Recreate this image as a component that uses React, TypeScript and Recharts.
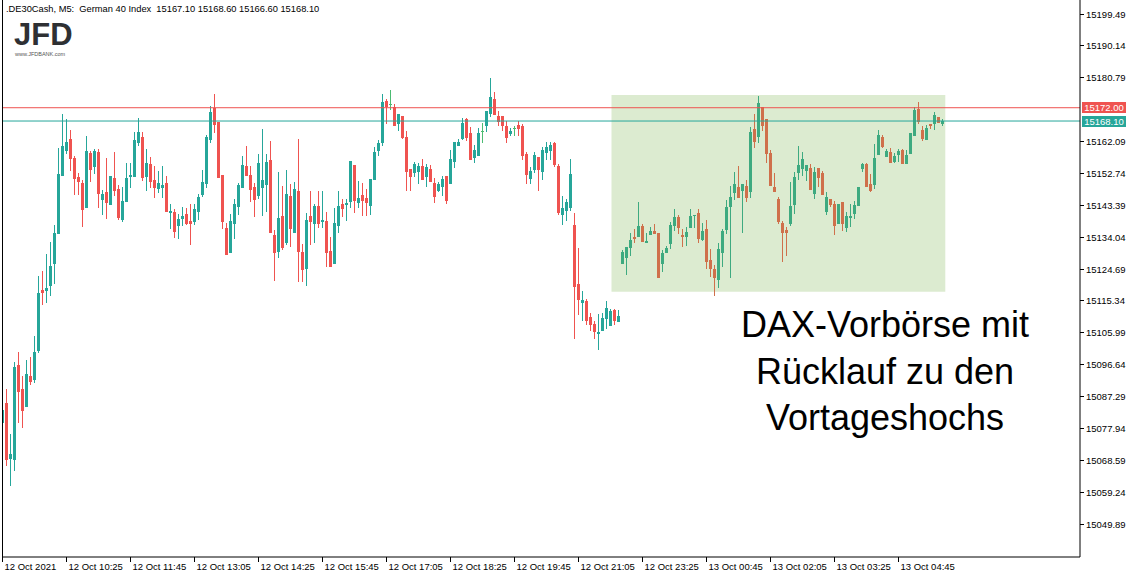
import React from 'react';
import { ComposedChart, Bar, XAxis, YAxis, ReferenceLine, ReferenceArea } from 'recharts';

const opens = [
  15079.6, 15085.3, 15068.9, 15068.7, 15096.5, 15089.5, 15084.2, 15093.3, 15092.1, 15100.6,
  15118.5, 15118.2, 15119.7, 15126.2, 15135.0, 15152.0, 15159.3, 15162.8, 15157.3, 15151.7,
  15149.9, 15142.6, 15158.7, 15154.6, 15159.0, 15144.9, 15147.3, 15143.5, 15151.4, 15148.2,
  15139.1, 15144.3, 15151.7, 15151.7, 15161.7, 15163.4, 15151.7, 15155.5, 15150.8, 15148.2,
  15148.5, 15149.9, 15141.1, 15141.4, 15137.3, 15139.4, 15140.8, 15138.8, 15138.5, 15141.4,
  15146.4, 15149.6, 15162.5, 15171.9, 15167.8, 15152.3, 15136.7, 15129.4, 15137.9, 15142.9,
  15148.5, 15154.9, 15152.3, 15148.7, 15146.1, 15148.5, 15149.3, 15156.7, 15134.7, 15129.7,
  15140.2, 15132.3, 15146.1, 15135.3, 15147.6, 15129.7, 15124.7, 15140.2, 15137.9, 15143.2,
  15138.5, 15138.8, 15130.0, 15126.2, 15137.3, 15143.8, 15143.5, 15144.3, 15155.2, 15144.1,
  15146.4, 15145.5, 15143.2, 15150.8, 15159.3, 15161.7, 15174.0, 15173.1, 15172.2, 15167.2,
  15169.6, 15163.4, 15154.0, 15152.9, 15153.1, 15154.9, 15151.7, 15154.0, 15149.9, 15147.6,
  15148.7, 15152.0, 15149.6, 15156.1, 15160.8, 15162.8, 15168.7, 15164.6, 15157.3, 15157.8,
  15165.2, 15166.6, 15170.2, 15174.6, 15169.6, 15169.6, 15166.6, 15164.3, 15166.1, 15166.9,
  15166.6, 15158.4, 15151.1, 15153.7, 15157.5, 15153.1, 15158.7, 15159.3, 15161.7, 15154.9,
  15140.5, 15141.7, 15142.6, 15137.6, 15120.3, 15114.7, 15115.3, 15110.6, 15108.6, 15105.6,
  15106.5, 15110.0, 15108.0, 15112.7, 15109.1, 15126.2, 15127.9, 15130.9, 15134.1, 15134.1,
  15137.3, 15132.3, 15134.7, 15135.8, 15135.3, 15126.2, 15129.4, 15132.0, 15137.3, 15139.9,
  15134.7, 15134.1, 15136.7, 15140.2, 15141.1, 15133.2, 15136.4, 15127.3, 15124.7, 15121.5,
  15129.4, 15136.1, 15142.9, 15147.0, 15148.7, 15147.6, 15149.0, 15147.3, 15165.8, 15163.4,
  15172.2, 15168.7, 15158.7, 15148.7, 15145.2, 15138.2, 15136.1, 15137.9, 15143.5, 15152.9,
  15154.0, 15153.4, 15154.3, 15146.7, 15154.3, 15152.9, 15141.4, 15145.2, 15143.8, 15137.9,
  15144.3, 15136.7, 15139.7, 15140.8, 15143.2, 15154.0, 15155.5, 15149.6, 15149.3, 15158.1,
  15163.4, 15157.5, 15159.0, 15156.1, 15158.1, 15159.6, 15155.5, 15158.4, 15163.7, 15171.6,
  15165.5, 15162.5, 15167.2, 15167.2, 15169.3, 15167.1,
];

const highs = [
  15083.5, 15089.5, 15076.3, 15097.5, 15100.3, 15093.4, 15098.0, 15098.9, 15105.0, 15122.6,
  15124.1, 15129.1, 15132.6, 15137.6, 15160.2, 15170.2, 15168.7, 15165.5, 15157.8, 15152.9,
  15150.8, 15163.7, 15159.3, 15159.9, 15159.9, 15147.9, 15157.3, 15152.0, 15159.0, 15149.3,
  15148.7, 15155.8, 15155.8, 15164.9, 15169.0, 15164.9, 15159.9, 15157.5, 15154.9, 15153.4,
  15154.9, 15152.0, 15143.8, 15142.3, 15140.8, 15142.9, 15142.6, 15143.8, 15143.8, 15146.7,
  15153.7, 15164.0, 15172.5, 15176.0, 15167.8, 15152.3, 15138.2, 15140.8, 15145.2, 15149.9,
  15157.8, 15160.8, 15154.9, 15149.9, 15158.4, 15165.8, 15158.4, 15162.2, 15136.1, 15153.1,
  15149.0, 15153.7, 15149.6, 15150.2, 15162.8, 15132.0, 15141.1, 15147.6, 15143.8, 15147.6,
  15147.6, 15141.4, 15134.1, 15142.6, 15147.6, 15145.2, 15145.2, 15156.4, 15155.2, 15150.5,
  15149.9, 15148.2, 15151.1, 15160.5, 15162.5, 15176.0, 15174.6, 15177.2, 15173.1, 15170.2,
  15169.6, 15165.2, 15154.0, 15156.1, 15155.8, 15157.0, 15155.5, 15155.2, 15151.4, 15150.2,
  15152.0, 15152.0, 15159.6, 15161.9, 15162.8, 15169.0, 15169.0, 15166.3, 15161.1, 15166.1,
  15167.5, 15171.0, 15180.7, 15176.6, 15171.0, 15169.6, 15168.1, 15166.1, 15166.6, 15168.1,
  15167.2, 15159.0, 15154.6, 15159.0, 15157.5, 15160.5, 15161.9, 15161.9, 15161.9, 15155.5,
  15146.1, 15145.2, 15157.0, 15141.1, 15130.9, 15118.2, 15115.9, 15111.8, 15109.4, 15111.5,
  15111.8, 15115.3, 15113.0, 15113.0, 15112.7, 15130.3, 15131.1, 15135.3, 15136.4, 15144.3,
  15137.9, 15135.3, 15137.0, 15137.9, 15135.3, 15130.3, 15131.4, 15138.5, 15142.3, 15140.5,
  15136.4, 15137.0, 15142.3, 15140.5, 15142.3, 15138.2, 15139.1, 15130.6, 15125.9, 15132.3,
  15136.4, 15144.9, 15149.0, 15153.1, 15154.9, 15149.6, 15150.8, 15166.3, 15170.2, 15175.4,
  15172.2, 15168.7, 15159.6, 15152.9, 15145.8, 15138.8, 15137.0, 15150.2, 15153.1, 15160.8,
  15159.0, 15155.2, 15155.5, 15154.6, 15154.3, 15153.4, 15147.3, 15145.2, 15144.6, 15143.8,
  15144.3, 15141.4, 15143.8, 15144.6, 15148.7, 15155.8, 15155.8, 15152.6, 15161.4, 15165.5,
  15164.0, 15159.9, 15160.2, 15158.7, 15159.9, 15159.9, 15159.6, 15164.6, 15172.2, 15173.7,
  15166.6, 15166.9, 15167.2, 15170.7, 15169.3, 15168.6,
];

const lows = [
  15079.4, 15067.0, 15061.1, 15065.5, 15079.6, 15078.1, 15084.2, 15090.8, 15091.2, 15100.1,
  15114.1, 15114.7, 15116.8, 15120.3, 15135.0, 15152.0, 15158.4, 15153.4, 15146.4, 15146.4,
  15137.0, 15142.6, 15150.2, 15152.6, 15142.6, 15140.5, 15139.4, 15143.5, 15146.1, 15139.1,
  15138.5, 15144.3, 15148.5, 15151.7, 15160.8, 15150.5, 15147.6, 15148.5, 15145.5, 15147.0,
  15145.5, 15141.4, 15136.4, 15133.8, 15133.5, 15137.3, 15137.6, 15131.7, 15137.6, 15139.1,
  15145.8, 15148.5, 15161.7, 15164.6, 15151.4, 15136.4, 15128.8, 15129.4, 15133.5, 15140.5,
  15148.5, 15152.0, 15144.3, 15139.9, 15145.2, 15140.2, 15141.4, 15135.3, 15121.2, 15127.9,
  15130.3, 15131.7, 15131.1, 15135.3, 15120.9, 15120.9, 15119.7, 15131.7, 15132.3, 15136.7,
  15136.7, 15125.3, 15125.3, 15126.2, 15135.3, 15139.9, 15138.8, 15142.6, 15141.1, 15142.6,
  15140.2, 15140.2, 15140.5, 15150.8, 15157.8, 15160.8, 15167.2, 15171.3, 15166.6, 15165.2,
  15162.8, 15147.6, 15147.6, 15151.7, 15149.6, 15150.8, 15148.7, 15150.2, 15144.1, 15147.3,
  15146.1, 15143.8, 15149.6, 15154.3, 15160.8, 15162.5, 15162.2, 15156.7, 15155.8, 15157.8,
  15161.7, 15164.9, 15169.3, 15169.9, 15166.6, 15165.2, 15161.7, 15163.7, 15163.7, 15163.7,
  15156.7, 15149.6, 15149.6, 15152.9, 15147.6, 15150.8, 15156.7, 15156.7, 15154.6, 15140.5,
  15137.6, 15138.8, 15141.7, 15104.2, 15111.2, 15109.4, 15108.3, 15106.5, 15104.2, 15100.9,
  15106.5, 15107.1, 15108.0, 15108.3, 15109.1, 15126.2, 15122.9, 15128.5, 15132.3, 15134.1,
  15132.6, 15132.3, 15134.7, 15135.0, 15122.1, 15123.8, 15129.4, 15130.6, 15135.8, 15135.0,
  15131.1, 15131.4, 15136.7, 15136.7, 15132.3, 15132.9, 15124.7, 15122.3, 15116.8, 15119.1,
  15125.3, 15135.0, 15122.1, 15144.9, 15145.5, 15135.3, 15144.3, 15145.5, 15160.2, 15161.7,
  15165.2, 15155.8, 15149.0, 15147.3, 15137.9, 15126.7, 15128.5, 15137.3, 15140.8, 15150.8,
  15152.0, 15150.5, 15147.9, 15145.2, 15148.7, 15146.4, 15140.5, 15142.9, 15134.7, 15137.9,
  15135.8, 15135.5, 15137.0, 15139.4, 15143.2, 15153.1, 15148.7, 15147.3, 15148.2, 15158.1,
  15160.2, 15157.5, 15155.8, 15155.8, 15156.1, 15155.5, 15155.5, 15158.4, 15163.7, 15167.2,
  15162.2, 15162.5, 15165.8, 15165.5, 15167.5, 15166.6,
];

const closes = [
  15083.3, 15068.7, 15070.4, 15095.9, 15088.6, 15083.0, 15093.9, 15091.5, 15100.3, 15117.6,
  15117.6, 15119.1, 15125.6, 15135.3, 15152.6, 15160.8, 15161.9, 15157.0, 15151.1, 15150.2,
  15142.0, 15159.3, 15153.7, 15159.3, 15146.7, 15146.7, 15144.1, 15152.0, 15147.6, 15139.7,
  15144.6, 15151.4, 15152.3, 15162.5, 15164.9, 15151.4, 15155.8, 15150.2, 15148.5, 15149.9,
  15149.3, 15141.4, 15141.7, 15135.5, 15139.4, 15140.2, 15137.9, 15137.9, 15142.3, 15145.8,
  15150.2, 15163.4, 15170.7, 15166.9, 15151.4, 15138.5, 15128.8, 15138.8, 15143.8, 15149.3,
  15155.2, 15152.0, 15147.9, 15144.9, 15155.8, 15150.8, 15156.1, 15135.3, 15129.4, 15139.7,
  15130.9, 15146.7, 15136.4, 15148.2, 15129.7, 15124.4, 15139.1, 15138.5, 15143.2, 15137.9,
  15139.1, 15129.4, 15125.3, 15138.2, 15143.2, 15142.3, 15144.1, 15156.4, 15144.6, 15145.5,
  15144.6, 15144.1, 15151.1, 15159.0, 15161.7, 15173.7, 15172.2, 15173.1, 15166.6, 15170.2,
  15163.1, 15153.1, 15151.7, 15155.5, 15154.9, 15150.8, 15154.6, 15150.2, 15145.8, 15149.6,
  15151.1, 15144.6, 15157.0, 15161.9, 15161.9, 15167.5, 15163.1, 15156.7, 15159.6, 15164.6,
  15165.2, 15171.0, 15175.1, 15169.9, 15167.8, 15166.6, 15163.1, 15165.2, 15166.1, 15165.8,
  15157.8, 15152.3, 15153.4, 15158.1, 15153.7, 15159.6, 15160.5, 15161.1, 15155.2, 15141.1,
  15142.6, 15144.3, 15152.6, 15119.4, 15115.6, 15115.6, 15109.4, 15108.3, 15106.2, 15106.2,
  15110.3, 15113.3, 15112.4, 15109.4, 15110.9, 15129.7, 15131.1, 15133.2, 15133.5, 15137.3,
  15132.6, 15132.9, 15135.8, 15135.0, 15122.1, 15129.4, 15130.9, 15137.6, 15139.9, 15136.7,
  15134.1, 15135.5, 15140.2, 15140.5, 15133.5, 15135.8, 15126.7, 15124.7, 15122.1, 15130.6,
  15135.8, 15142.9, 15145.8, 15149.6, 15145.5, 15149.6, 15145.5, 15164.9, 15161.9, 15173.4,
  15166.6, 15158.4, 15149.0, 15147.3, 15138.5, 15135.3, 15135.3, 15143.2, 15151.7, 15155.2,
  15157.0, 15155.2, 15147.9, 15153.1, 15151.4, 15146.4, 15145.8, 15143.5, 15137.3, 15143.8,
  15137.9, 15140.2, 15140.2, 15143.5, 15148.7, 15155.5, 15148.7, 15147.6, 15157.3, 15164.0,
  15160.5, 15159.3, 15155.8, 15157.8, 15159.3, 15155.5, 15158.1, 15164.6, 15171.3, 15167.8,
  15162.8, 15166.1, 15166.6, 15169.9, 15167.5, 15168.1,
];

const xTickBars = [0, 16, 32, 48, 64, 80, 96, 112, 128, 144, 160, 176, 192, 208, 224];
const xTickLabels = [
  '12 Oct 2021', '12 Oct 10:25', '12 Oct 11:45', '12 Oct 13:05', '12 Oct 14:25',
  '12 Oct 15:45', '12 Oct 17:05', '12 Oct 18:25', '12 Oct 19:45', '12 Oct 21:05',
  '12 Oct 23:25', '13 Oct 00:45', '13 Oct 02:05', '13 Oct 03:25', '13 Oct 04:45',
];
const yTicks = [
  15199.49, 15190.14, 15180.79, 15162.09, 15152.74, 15143.39, 15134.04, 15124.69,
  15115.34, 15105.99, 15096.64, 15087.29, 15077.94, 15068.59, 15059.24, 15049.89,
];

const resistanceHigh = 15172.0;
const lastPrice = 15168.1;
const boxBars = [152.25, 235.7];
const boxPrices = [15118.0, 15175.7];
const boxStartBar = 155;

const UP = '#26a69a';
const DOWN = '#ef5350';
const UP_BOX = '#3eaa80';
const DOWN_BOX = '#cf704b';
const DOJI = '#4cbb72';
const AXIS_FONT = '"Liberation Sans", Arial, sans-serif';

const data = opens.map((o, i) => ({
  i,
  o,
  h: highs[i],
  l: lows[i],
  c: closes[i],
  range: [lows[i], highs[i]],
}));

const Candle = (props: any) => {
  const { x, y, width, height, payload } = props;
  if (x == null || payload == null) return null;
  const { o, h, l, c, i } = payload;
  const top = Math.min(y, y + height);
  const hh = Math.abs(height);
  const py = (p: number) => top + (h === l ? 0 : ((h - p) / (h - l)) * hh);
  const cx = x + width / 2;
  const inBox = i >= boxStartBar;
  let color = c > o ? (inBox ? UP_BOX : UP) : inBox ? DOWN_BOX : DOWN;
  if (c === o) color = DOJI;
  const bTop = py(Math.max(o, c));
  const bBot = py(Math.min(o, c));
  return (
    <g shapeRendering="crispEdges">
      <rect x={cx - 0.5} y={py(h)} width={1} height={Math.max(1, py(l) - py(h))} fill={color} />
      <rect x={cx - 1.5} y={bTop} width={3} height={Math.max(1, bBot - bTop)} fill={color} />
    </g>
  );
};

const XTick = (props: any) => {
  const { x, y, payload } = props;
  const idx = xTickBars.indexOf(payload.value);
  return (
    <g>
      <line x1={x} y1={y} x2={x} y2={y + 5} stroke="#000" shapeRendering="crispEdges" />
      <text x={x + 2} y={y + 13} fontSize={9.5} fontFamily={AXIS_FONT} fill="#000" textAnchor="start">
        {idx >= 0 ? xTickLabels[idx] : ''}
      </text>
    </g>
  );
};

const YTick = (props: any) => {
  const { x, y, payload } = props;
  return (
    <g>
      <line x1={x} y1={y} x2={x + 4} y2={y} stroke="#000" shapeRendering="crispEdges" />
      <text x={x + 6} y={y + 3.5} fontSize={9.5} fontFamily={AXIS_FONT} fill="#000" textAnchor="start">
        {payload.value.toFixed(2)}
      </text>
    </g>
  );
};

const PriceTag = (props: any) => {
  const { viewBox, fill, text } = props;
  if (!viewBox) return null;
  const right = viewBox.x + viewBox.width;
  const cy = viewBox.y;
  return (
    <g>
      <rect x={right + 2} y={cy - 5.5} width={44} height={11} fill={fill} shapeRendering="crispEdges" />
      <text x={right + 24} y={cy + 3.5} fontSize={9.5} fontFamily={AXIS_FONT} fill="#fff" textAnchor="middle">
        {text}
      </text>
    </g>
  );
};

export default function App() {
  return (
    <div style={{ position: 'absolute', left: 0, top: 0, width: 1137, height: 578, background: '#fff', overflow: 'hidden' }}>
      <ComposedChart
        width={1137}
        height={578}
        data={data}
        margin={{ top: 0, right: 0, left: 2, bottom: 0 }}
        barCategoryGap={0}
      >
        <XAxis
          dataKey="i"
          type="number"
          domain={[-0.125, 269.375]}
          allowDataOverflow
          ticks={xTickBars}
          interval={0}
          height={21}
          tickSize={0}
          tickMargin={0}
          tickLine={false}
          axisLine={{ stroke: '#000' }}
          tick={<XTick />}
        />
        <YAxis
          orientation="right"
          type="number"
          domain={[15040.21, 15203.6]}
          allowDataOverflow
          ticks={yTicks}
          interval={0}
          width={57}
          tickSize={0}
          tickMargin={0}
          tickLine={false}
          axisLine={{ stroke: '#000' }}
          tick={<YTick />}
        />
        <ReferenceArea
          x1={boxBars[0]}
          x2={boxBars[1]}
          y1={boxPrices[0]}
          y2={boxPrices[1]}
          fill="#dcebd0"
          fillOpacity={1}
          stroke="none"
          ifOverflow="visible"
        />
        <Bar dataKey="range" barSize={3} shape={<Candle />} isAnimationActive={false} />
        <ReferenceLine
          y={resistanceHigh}
          stroke={DOWN}
          strokeWidth={1}
          label={<PriceTag fill={DOWN} text={resistanceHigh.toFixed(2)} />}
        />
        <ReferenceLine
          y={lastPrice}
          stroke={UP}
          strokeWidth={1}
          label={<PriceTag fill={UP} text={lastPrice.toFixed(2)} />}
        />
      </ComposedChart>
      <div style={{ position: 'absolute', left: 2, top: 0, width: 1, height: 557, background: '#000' }} />
      <div
        style={{
          position: 'absolute', left: 6, top: 3, fontSize: 9.3, fontFamily: AXIS_FONT,
          whiteSpace: 'pre', color: '#000', lineHeight: '12px',
        }}
      >
        {'.DE30Cash, M5:  German 40 Index  15167.10 15168.60 15166.60 15168.10'}
      </div>
      <div
        style={{
          position: 'absolute', left: 14, top: 19, fontSize: 31, fontWeight: 700,
          fontFamily: AXIS_FONT, color: '#2e3033', lineHeight: '31px', letterSpacing: 0,
        }}
      >
        JFD
      </div>
      <div
        style={{
          position: 'absolute', left: 15, top: 51, fontSize: 5.5, fontFamily: AXIS_FONT,
          color: '#555', lineHeight: '7px',
        }}
      >
        www.JFDBANK.com
      </div>
      <div
        style={{
          position: 'absolute', left: 700, top: 302, width: 370, textAlign: 'center',
          fontSize: 36, fontFamily: AXIS_FONT, color: '#000', lineHeight: '46.5px',
        }}
      >
        <div>DAX-Vorbörse mit</div>
        <div>Rücklauf zu den</div>
        <div>Vortageshochs</div>
      </div>
    </div>
  );
}
